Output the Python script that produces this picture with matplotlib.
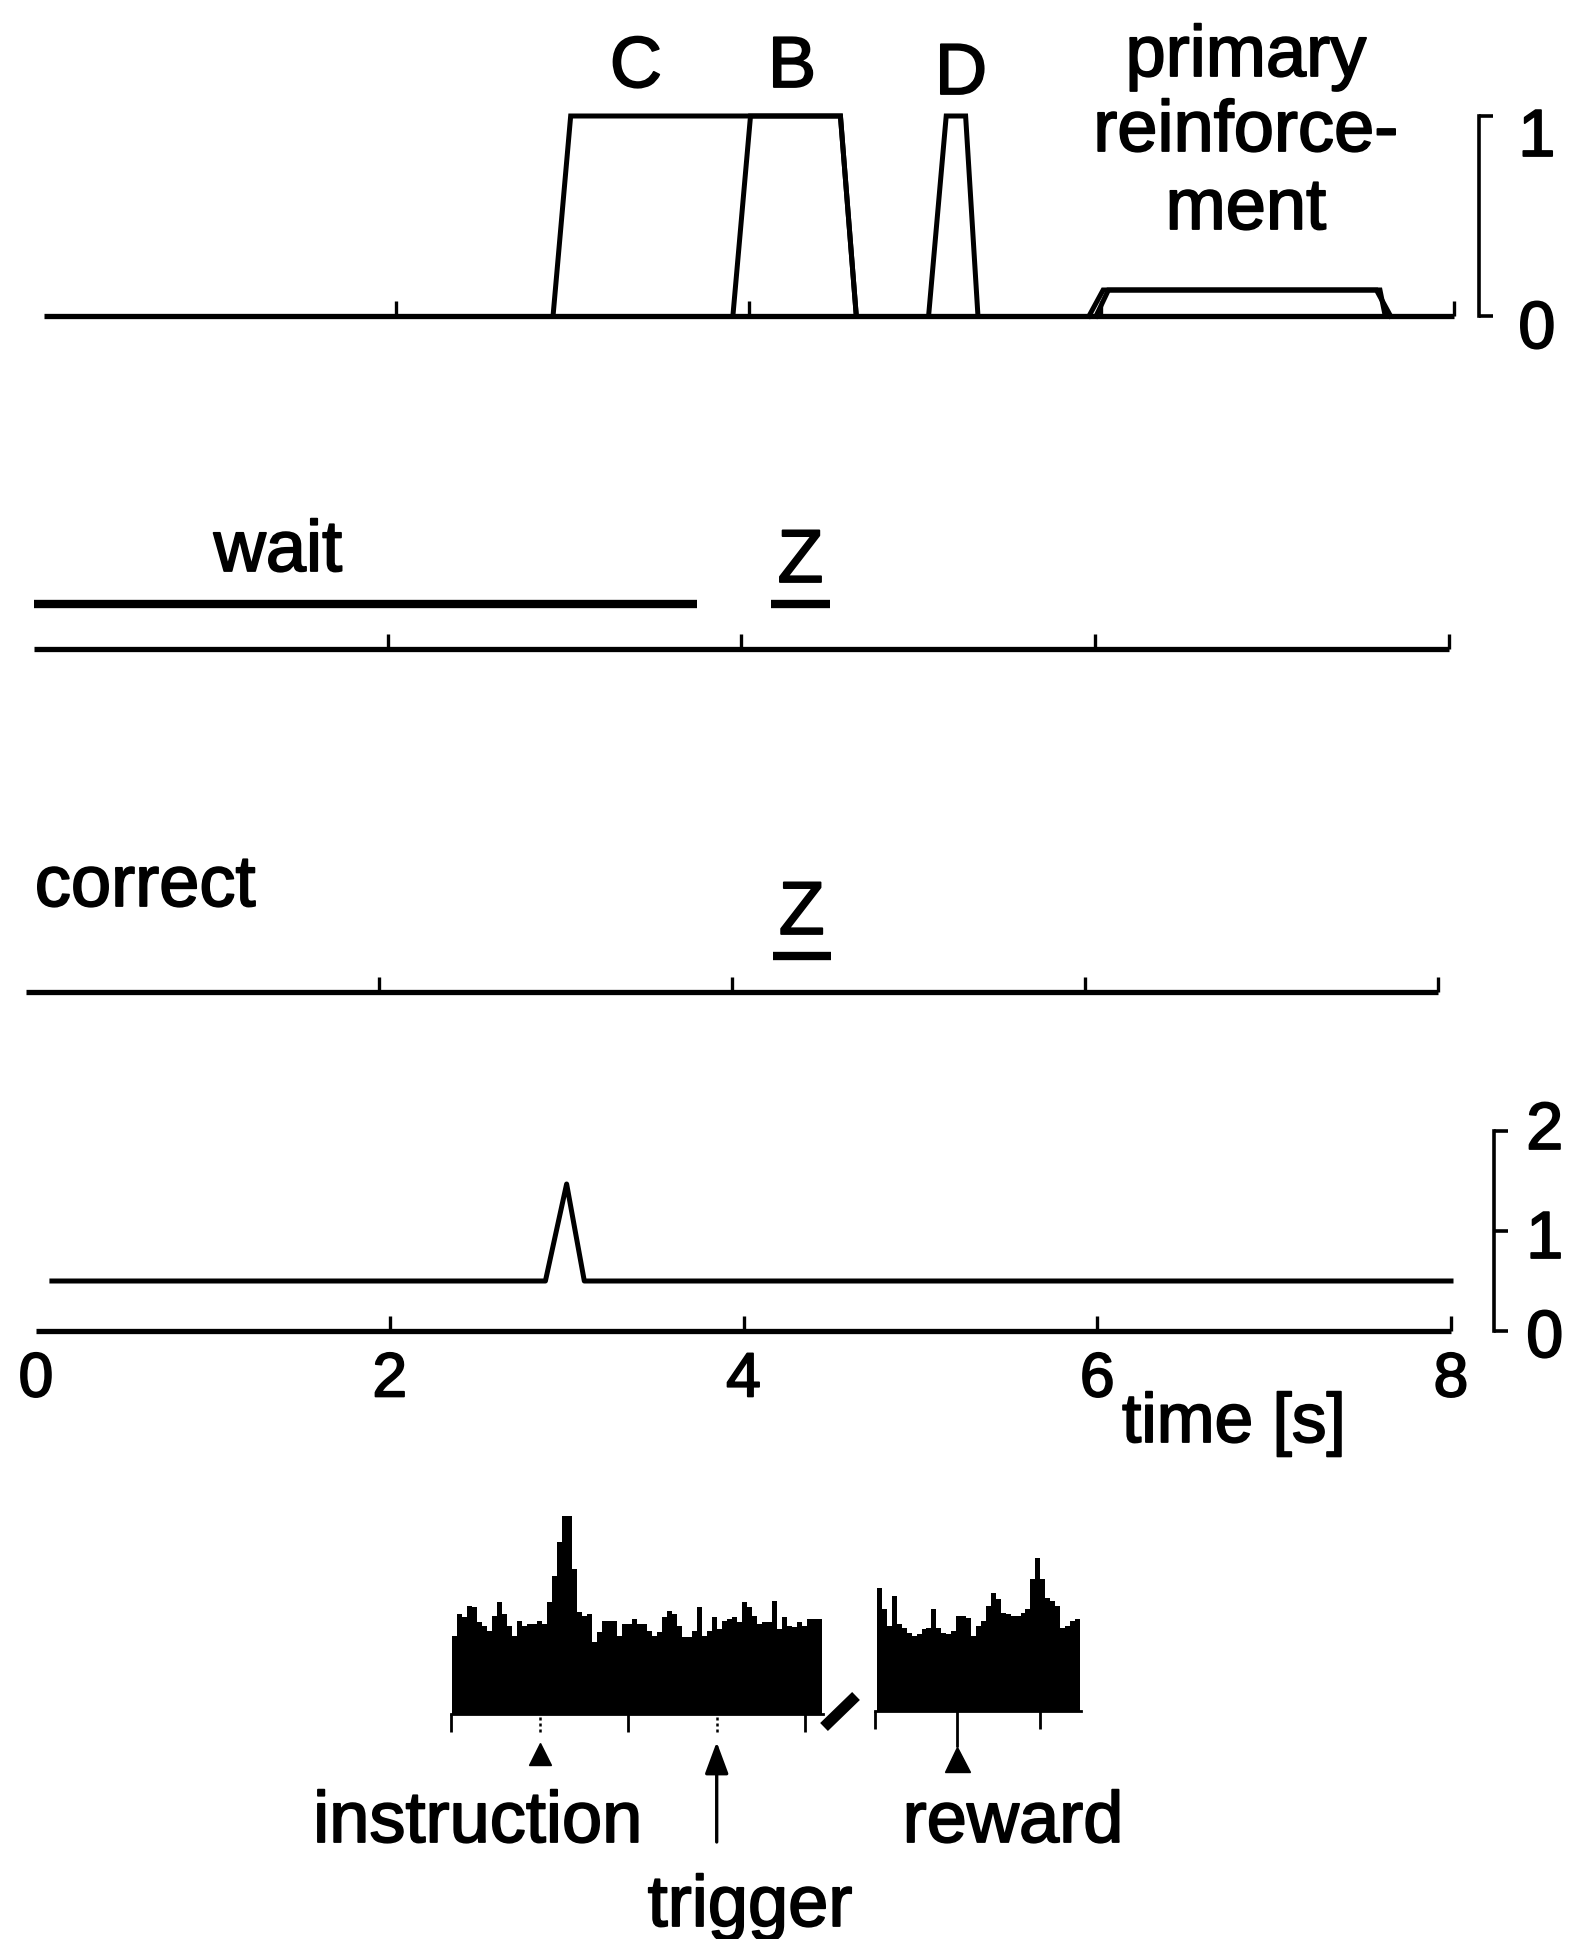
import numpy as np
import matplotlib
matplotlib.use("Agg")
import matplotlib.pyplot as plt
import matplotlib.patheffects as pe

plt.rcParams['font.family'] = ['Liberation Sans', 'DejaVu Sans']

# ---------------- data ----------------
time_ticks = [0, 2, 4, 6, 8]
time_tick_labels = ["0", "2", "4", "6", "8"]

# top panel: model prediction traces (time in s, value)
C_t = [2.89, 2.99, 4.52, 4.61]
C_v = [0, 1, 1, 0]
B_t = [3.91, 4.01, 4.52, 4.61]
B_v = [0, 1, 1, 0]
D_t = [5.02, 5.12, 5.23, 5.30]
D_v = [0, 1, 1, 0]
R1_t = [5.93, 6.01, 7.56, 7.64]
R1_v = [0, 0.13, 0.13, 0]
R2_t = [5.97, 6.04, 7.58, 7.61]
R2_v = [0, 0.13, 0.13, 0]

# event intervals
wait_interval = [0.0, 3.75]
z_interval_wait = [4.17, 4.50]
z_interval_correct = [4.23, 4.56]

# bottom trace (scale 0-2)
err_t = [0.09, 2.88, 3.00, 3.10, 8.0]
err_v = [0.5, 0.5, 1.47, 0.5, 0.5]

# histograms (arbitrary units)
hist1_vals = [78, 100, 97, 108, 107, 92, 88, 83, 98, 112, 100, 88, 78, 93, 88, 90,
              90, 93, 90, 112, 138, 172, 198, 198, 145, 102, 98, 100, 72, 82, 93, 93,
              93, 78, 90, 90, 95, 90, 90, 83, 78, 82, 97, 103, 100, 88, 77, 77, 83,
              107, 78, 83, 97, 85, 93, 95, 97, 92, 112, 107, 98, 90, 92, 92, 113, 85,
              97, 88, 87, 92, 88, 95, 95, 95]
hist2_vals = [123, 102, 85, 115, 87, 83, 78, 75, 77, 82, 83, 102, 83, 78, 77, 80,
              95, 95, 93, 75, 85, 90, 105, 118, 112, 98, 97, 95, 95, 98, 102, 132,
              153, 132, 113, 110, 105, 83, 85, 90, 92]
hist1_range = (-0.99, 3.19)   # s relative to instruction
hist2_range = (-0.97, 1.49)   # s relative to reward
instruction_t = 0.0
trigger_t = 2.0
reward_t = 0.0

# ---------------- layout ----------------
W, H = 1573, 1940
fig = plt.figure(figsize=(W / 100, H / 100), dpi=100)
fig.patch.set_facecolor("white")

BOLDEN = [pe.withStroke(linewidth=1.3, foreground="k")]


def add_ax(left, bottom_px, width, height):
    ax = fig.add_axes([left / W, 1 - bottom_px / H, width / W, height / H])
    ax.patch.set_visible(False)
    for s in ["top", "left", "right"]:
        ax.spines[s].set_visible(False)
    return ax


def txt(ax, x, y, s, **kw):
    t = ax.text(x, y, s, **kw)
    t.set_path_effects(BOLDEN)
    return t


LW = 3.6
SPW = 3.8
FS = 52


def time_axis(ax, ticks=(2, 4, 6, 8)):
    ax.set_xlim(0, 8)
    ax.spines["bottom"].set_linewidth(SPW)
    ax.spines["bottom"].set_capstyle("butt")
    ax.set_xticks(list(ticks))
    ax.tick_params(axis="x", direction="in", length=11, width=2.4, labelbottom=False)
    ax.set_yticks([])


# --- panel 1 ---
ax1 = add_ax(43.5, 317, 1410.5, 200)
time_axis(ax1)
ax1.set_ylim(0, 1)
for t, v in [(C_t, C_v), (B_t, B_v), (D_t, D_v), (R1_t, R1_v), (R2_t, R2_v)]:
    ax1.plot(t, v, color="k", lw=LW, clip_on=False, solid_joinstyle="miter")
ax1.spines["right"].set_visible(True)
ax1.spines["right"].set_position(("outward", 18))
ax1.spines["right"].set_bounds(0, 1)
ax1.spines["right"].set_linewidth(2.6)
ax1.yaxis.set_ticks_position("right")
ax1.set_yticks([0, 1])
ax1.tick_params(axis="y", direction="out", length=10, width=2.6, labelright=False)
txt(ax1, 8.47, 0.885, "1", fontsize=48, ha="center", va="center")
txt(ax1, 8.47, -0.075, "0", fontsize=48, ha="center", va="center")
txt(ax1, 3.36, 1.145, "C", fontsize=FS, ha="center", va="baseline")
txt(ax1, 4.245, 1.145, "B", fontsize=FS, ha="center", va="baseline")
txt(ax1, 5.204, 1.11, "D", fontsize=FS, ha="center", va="baseline")
txt(ax1, 6.82, 1.20, "primary", fontsize=FS, ha="center", va="baseline")
txt(ax1, 6.82, 0.825, "reinforce-", fontsize=FS, ha="center", va="baseline")
txt(ax1, 6.82, 0.435, "ment", fontsize=FS, ha="center", va="baseline")

# --- panel 2 (wait) ---
ax2 = add_ax(34, 650, 1414.5, 100)
time_axis(ax2)
ax2.set_ylim(0, 1)
ax2.hlines(0.45, wait_interval[0], wait_interval[1], color="k", lw=6, clip_on=False)
ax2.hlines(0.45, z_interval_wait[0], z_interval_wait[1], color="k", lw=6, clip_on=False)
txt(ax2, 1.38, 0.78, "wait", fontsize=FS, ha="center", va="baseline")
txt(ax2, np.mean(z_interval_wait), 0.67, "Z", fontsize=54, ha="center", va="baseline")

# --- panel 3 (correct) ---
ax3 = add_ax(26, 993, 1412, 100)
time_axis(ax3)
ax3.set_ylim(0, 1)
ax3.hlines(0.36, z_interval_correct[0], z_interval_correct[1], color="k", lw=6, clip_on=False)
txt(ax3, 0.05, 0.86, "correct", fontsize=FS, ha="left", va="baseline")
txt(ax3, np.mean(z_interval_correct), 0.58, "Z", fontsize=54, ha="center", va="baseline")

# --- panel 4 ---
ax4 = add_ax(36, 1332, 1415, 200)
time_axis(ax4, ticks=time_ticks)
ax4.set_ylim(0, 2)
ax4.plot(err_t, err_v, color="k", lw=LW, clip_on=False)
ax4.set_xticklabels(time_tick_labels)
ax4.tick_params(axis="x", labelbottom=True, labelsize=45, pad=14)
for lab in ax4.get_xticklabels():
    lab.set_path_effects(BOLDEN)
ax4.xaxis.get_major_ticks()[0].tick1line.set_visible(False)
ax4.spines["right"].set_visible(True)
ax4.spines["right"].set_position(("outward", 31))
ax4.spines["right"].set_bounds(0, 2)
ax4.spines["right"].set_linewidth(2.6)
ax4.yaxis.set_ticks_position("right")
ax4.set_yticks([0, 1, 2])
ax4.tick_params(axis="y", direction="out", length=10, width=2.6, labelright=False)
for val, yy in [("2", 1.99), ("1", 0.90), ("0", -0.09)]:
    txt(ax4, 8.53, yy, val, fontsize=48, ha="center", va="center")
txt(ax4, 6.14, -0.93, "time [s]", fontsize=50, ha="left", va="center")

# --- histograms ---
axh1 = add_ax(451.5, 1715, 4.2 * 88.4, 200)
axh1.set_xlim(-1, 3.2)
axh1.set_ylim(0, 200)
e1 = np.linspace(hist1_range[0], hist1_range[1], len(hist1_vals) + 1)
axh1.stairs(hist1_vals, e1, fill=True, color="k", lw=0)
axh1.spines["bottom"].set_linewidth(2.0)
axh1.set_xticks([-1, 1, 3])
axh1.set_yticks([])
axh1.tick_params(axis="x", direction="out", length=13, width=2.0, labelbottom=False)
axh1.vlines([instruction_t, trigger_t], -18, 0, colors="k", linestyles=(0, (1.2, 1.2)),
            lw=1.8, clip_on=False)
axh1.plot([instruction_t], [-39.5], marker="^", ms=16, color="k", clip_on=False)
axh1.annotate("", xy=(trigger_t, -28), xytext=(trigger_t, -128), annotation_clip=False,
              arrowprops=dict(arrowstyle="-|>,head_length=0.97,head_width=0.36",
                              mutation_scale=20, lw=2.4, color="k", shrinkA=0, shrinkB=0))
axh1.plot([3.214, 3.576], [-13, 18], lw=8, color="k", clip_on=False, solid_capstyle="butt")
txt(axh1, -0.70, -128, "instruction", fontsize=FS, ha="center", va="baseline")
txt(axh1, 2.377, -212, "trigger", fontsize=FS, ha="center", va="baseline")

axh2 = add_ax(874.5, 1712, 2.5 * 82.5, 200)
axh2.set_xlim(-1, 1.5)
axh2.set_ylim(0, 200)
e2 = np.linspace(hist2_range[0], hist2_range[1], len(hist2_vals) + 1)
axh2.stairs(hist2_vals, e2, fill=True, color="k", lw=0)
axh2.spines["bottom"].set_linewidth(2.0)
axh2.set_xticks([-1, 1])
axh2.set_yticks([])
axh2.tick_params(axis="x", direction="out", length=13, width=2.0, labelbottom=False)
axh2.vlines([reward_t], -36, 0, colors="k", lw=2.0, clip_on=False)
axh2.plot([reward_t], [-47.5], marker="^", ms=18, color="k", clip_on=False)
txt(axh2, 0.679, -131, "reward", fontsize=FS, ha="center", va="baseline")

fig.savefig("out.png", dpi=100, facecolor="white")
